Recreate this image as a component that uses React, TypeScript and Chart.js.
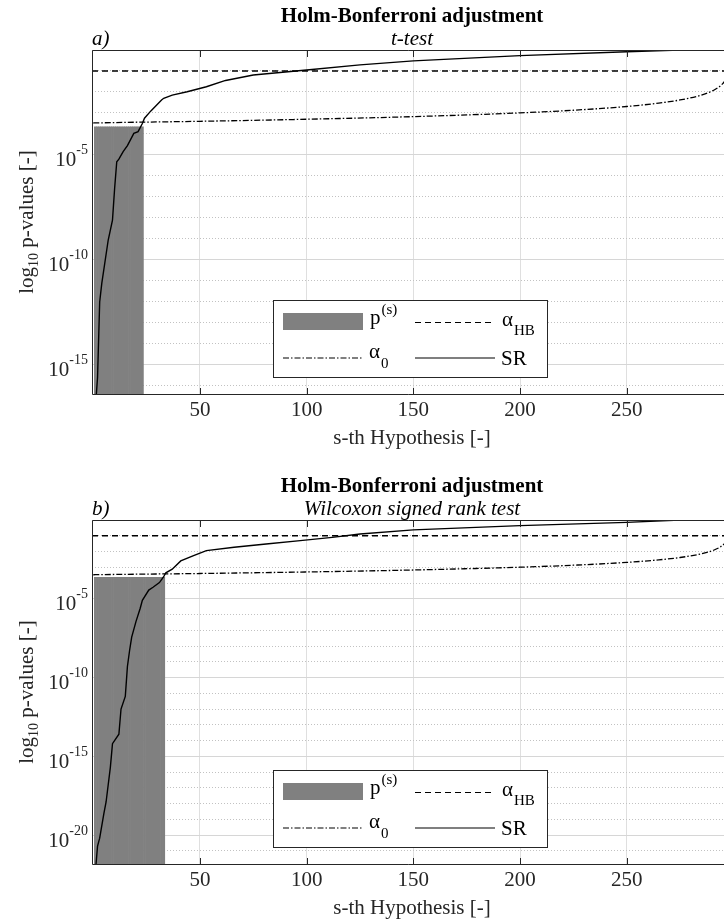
import React, { useEffect, useRef } from 'react';
import { Chart, registerables } from 'chart.js';

Chart.register(...registerables);

const FONT = '"Liberation Serif", "Times New Roman", Times, serif';

// ---------- shared axis data ----------
const xTickValues = [50, 100, 150, 200, 250];
const xRange = [-0.6, 295.6];
const alphaHB = 0.1;

// Holm threshold alpha_0
const alpha0Index = [0, 1, 50, 100, 150, 200, 225, 250, 265, 275, 283, 288, 291, 293, 294, 295, 296];
const alpha0Values = [3.34e-4, 3.36e-4, 4.02e-4, 5.03e-4, 6.71e-4, 1.01e-3, 1.35e-3, 2.04e-3, 2.94e-3, 4.17e-3, 6.25e-3, 9.1e-3, 1.25e-2, 1.67e-2, 2.0e-2, 2.5e-2, 3.33e-2];

// ---------- panel a) t-test ----------
const tTestSRIndex = [1, 2, 3, 4, 7, 9, 10, 11, 12, 14, 16, 19, 21, 23, 24, 27, 32, 33, 37, 44, 53, 62, 75, 100, 125, 150, 200, 250, 275, 296];
const tTestSRExp = [-17.0, -15.6, -12.0, -11.1, -9.05, -8.1, -6.6, -5.32, -5.2, -4.84, -4.55, -3.97, -3.89, -3.5, -3.25, -2.9, -2.38, -2.3, -2.15, -1.99, -1.75, -1.45, -1.19, -0.95, -0.71, -0.52, -0.27, -0.08, 0, 0];
const tTestSigIndex = [1, 2, 3, 4, 5, 6, 7, 8, 9, 10, 11, 12, 13, 14, 15, 16, 17, 18, 19, 20, 21, 22, 23];
const tTestSigValues = [2.2e-4, 2.2e-4, 2.2e-4, 2.2e-4, 2.2e-4, 2.2e-4, 2.2e-4, 2.2e-4, 2.2e-4, 2.2e-4, 2.2e-4, 2.2e-4, 2.2e-4, 2.2e-4, 2.2e-4, 2.2e-4, 2.2e-4, 2.2e-4, 2.2e-4, 2.2e-4, 2.2e-4, 2.2e-4, 2.2e-4];
const tTestDecades = [0, -1, -2, -3, -4, -5, -6, -7, -8, -9, -10, -11, -12, -13, -14, -15, -16];
const tTestLabelExps = [-5, -10, -15];
const tTestYMin = 3.7e-17;

// ---------- panel b) Wilcoxon ----------
const wilcoxSRIndex = [1, 2, 3, 5, 6, 8, 9, 12, 13, 15, 16, 17, 18, 20, 22, 23, 26, 28, 31, 33, 34, 37, 41, 47, 53, 66, 81, 97, 112, 125, 150, 200, 250, 275, 296];
const wilcoxSRExp = [-22.3, -20.7, -20.2, -18.6, -17.9, -15.7, -14.2, -13.6, -12.0, -11.2, -9.3, -8.3, -7.43, -6.45, -5.6, -5.1, -4.45, -4.27, -3.97, -3.6, -3.35, -3.12, -2.6, -2.26, -1.94, -1.73, -1.52, -1.31, -1.1, -0.89, -0.63, -0.36, -0.15, 0, 0];
const wilcoxSigIndex = [1, 2, 3, 4, 5, 6, 7, 8, 9, 10, 11, 12, 13, 14, 15, 16, 17, 18, 19, 20, 21, 22, 23, 24, 25, 26, 27, 28, 29, 30, 31, 32, 33];
const wilcoxSigValues = [2.3e-4, 2.3e-4, 2.3e-4, 2.3e-4, 2.3e-4, 2.3e-4, 2.3e-4, 2.3e-4, 2.3e-4, 2.3e-4, 2.3e-4, 2.3e-4, 2.3e-4, 2.3e-4, 2.3e-4, 2.3e-4, 2.3e-4, 2.3e-4, 2.3e-4, 2.3e-4, 2.3e-4, 2.3e-4, 2.3e-4, 2.3e-4, 2.3e-4, 2.3e-4, 2.3e-4, 2.3e-4, 2.3e-4, 2.3e-4, 2.3e-4, 2.3e-4, 2.3e-4];
const wilcoxDecades = [0, -1, -2, -3, -4, -5, -6, -7, -8, -9, -10, -11, -12, -13, -14, -15, -16, -17, -18, -19, -20, -21];
const wilcoxLabelExps = [-5, -10, -15, -20];
const wilcoxYMin = 1.26e-22;

const mainTitle = 'Holm-Bonferroni adjustment';

type Panel = {
  letter: string;
  subtitle: string;
  height: number;
  yMin: number;
  decades: number[];
  labelExps: number[];
  srIndex: number[];
  srExp: number[];
  sigIndex: number[];
  sigValues: number[];
};

const panels: Panel[] = [
  { letter: 'a)', subtitle: 't-test', height: 470, yMin: tTestYMin, decades: tTestDecades, labelExps: tTestLabelExps, srIndex: tTestSRIndex, srExp: tTestSRExp, sigIndex: tTestSigIndex, sigValues: tTestSigValues },
  { letter: 'b)', subtitle: 'Wilcoxon signed rank test', height: 452, yMin: wilcoxYMin, decades: wilcoxDecades, labelExps: wilcoxLabelExps, srIndex: wilcoxSRIndex, srExp: wilcoxSRExp, sigIndex: wilcoxSigIndex, sigValues: wilcoxSigValues },
];

const PLOT_TOP = 50;
const PLOT_BOTTOM = 395;
const PLOT_LEFT = 92;
const TITLE_CX = 412;

const DASH_HB = [6, 4];
const DASH_A0 = [6, 2, 1.5, 2];

function isMajor(v: number) {
  const e = Math.round(Math.log10(v));
  return e % 5 === 0 && e !== 0;
}

function drawParts(ctx: CanvasRenderingContext2D, x: number, parts: { t: string; size: number; y: number; style?: string; dx?: number }[]) {
  let cx = x;
  for (const p of parts) {
    ctx.font = `${p.style || ''} ${p.size}px ${FONT}`;
    cx += p.dx || 0;
    ctx.fillText(p.t, cx, p.y);
    cx += ctx.measureText(p.t).width;
  }
}

function makeDecor(panel: Panel) {
  return {
    id: 'decor',
    afterDraw(chart: any) {
      const ctx: CanvasRenderingContext2D = chart.ctx;
      const { left, right, top, bottom } = chart.chartArea;
      const xs = chart.scales.x;
      const ys = chart.scales.y;
      ctx.save();

      // axes box
      ctx.strokeStyle = '#262626';
      ctx.lineWidth = 1;
      ctx.setLineDash([]);
      ctx.beginPath();
      ctx.moveTo(right, top + 0.5);
      ctx.lineTo(left + 0.5, top + 0.5);
      ctx.lineTo(left + 0.5, bottom - 0.5);
      ctx.lineTo(right, bottom - 0.5);
      ctx.stroke();

      // inward tick marks
      ctx.beginPath();
      xTickValues.forEach((v) => {
        const px = Math.round(xs.getPixelForValue(v)) + 0.5;
        ctx.moveTo(px, top);
        ctx.lineTo(px, top + 7);
        ctx.moveTo(px, bottom);
        ctx.lineTo(px, bottom - 7);
      });
      ctx.stroke();

      // y tick labels with superscript exponents
      ctx.fillStyle = '#262626';
      ctx.textBaseline = 'alphabetic';
      ctx.textAlign = 'left';
      panel.labelExps.forEach((e) => {
        const py = ys.getPixelForValue(Math.pow(10, e));
        ctx.font = `21px ${FONT}`;
        const w10 = ctx.measureText('10').width;
        ctx.font = `14px ${FONT}`;
        const we = ctx.measureText(String(e)).width;
        const x0 = 88 - w10 - we;
        ctx.font = `21px ${FONT}`;
        ctx.fillText('10', x0, py + 11.5);
        ctx.font = `14px ${FONT}`;
        ctx.fillText(String(e), x0 + w10, py - 0.5);
      });

      // titles
      ctx.fillStyle = '#000';
      ctx.textAlign = 'center';
      ctx.font = `bold 21px ${FONT}`;
      ctx.fillText(mainTitle, TITLE_CX, 21.5);
      ctx.font = `italic 21px ${FONT}`;
      ctx.fillText(panel.subtitle, TITLE_CX, 45);
      ctx.textAlign = 'left';
      ctx.fillText(panel.letter, left, 45);

      // x axis title
      ctx.fillStyle = '#262626';
      ctx.textAlign = 'center';
      ctx.font = `21px ${FONT}`;
      ctx.fillText('s-th Hypothesis [-]', TITLE_CX, 443.5);

      // y axis title (rotated, with subscript)
      ctx.save();
      ctx.translate(33, 222);
      ctx.rotate(-Math.PI / 2);
      ctx.textAlign = 'left';
      ctx.font = `21px ${FONT}`;
      const wLog = ctx.measureText('log').width;
      const wRest = ctx.measureText(' p-values [-]').width;
      ctx.font = `14px ${FONT}`;
      const wSub = ctx.measureText('10').width;
      const total = wLog + wSub + wRest;
      drawParts(ctx, -total / 2, [
        { t: 'log', size: 21, y: 0 },
        { t: '10', size: 14, y: 5 },
        { t: ' p-values [-]', size: 21, y: 0 },
      ]);
      ctx.restore();

      // legend
      const bx = 273.5, by = 300.5, bw = 274, bh = 77;
      ctx.fillStyle = '#fff';
      ctx.fillRect(bx, by, bw, bh);
      ctx.strokeStyle = '#262626';
      ctx.lineWidth = 1;
      ctx.strokeRect(bx, by, bw, bh);

      ctx.fillStyle = '#808080';
      ctx.fillRect(283, 313, 80, 17);

      ctx.strokeStyle = '#000';
      ctx.lineWidth = 1.2;
      const seg = (x1: number, x2: number, y: number, dash: number[]) => {
        ctx.setLineDash(dash);
        ctx.beginPath();
        ctx.moveTo(x1, y);
        ctx.lineTo(x2, y);
        ctx.stroke();
      };
      seg(415, 495, 322.5, DASH_HB);
      seg(283, 363, 358, DASH_A0);
      seg(415, 495, 358, []);
      ctx.setLineDash([]);

      ctx.fillStyle = '#000';
      ctx.textAlign = 'left';
      drawParts(ctx, 370, [
        { t: 'p', size: 21, y: 324 },
        { t: '(s)', size: 15, y: 314, dx: 1 },
      ]);
      drawParts(ctx, 502, [
        { t: 'α', size: 21, y: 326 },
        { t: 'HB', size: 15, y: 335, dx: 1 },
      ]);
      drawParts(ctx, 369, [
        { t: 'α', size: 21, y: 357.5 },
        { t: '0', size: 15, y: 368, dx: 1 },
      ]);
      ctx.font = `21px ${FONT}`;
      ctx.fillText('SR', 501, 365);

      ctx.restore();
    },
  };
}

function PanelChart({ panel }: { panel: Panel }) {
  const ref = useRef<HTMLCanvasElement | null>(null);
  useEffect(() => {
    if (!ref.current) return;
    const h = panel.height;
    const chart = new Chart(ref.current, {
      type: 'line',
      data: {
        datasets: [
          {
            type: 'line',
            label: 'SR',
            data: panel.srIndex.map((s, i) => ({ x: s, y: Math.pow(10, panel.srExp[i]) })),
            borderColor: '#000',
            borderWidth: 1.4,
            pointRadius: 0,
            tension: 0,
            order: 1,
          },
          {
            type: 'line',
            label: 'alpha_HB',
            data: xRange.map((s) => ({ x: s, y: alphaHB })),
            borderColor: '#000',
            borderWidth: 1.3,
            borderDash: DASH_HB,
            pointRadius: 0,
            order: 2,
          },
          {
            type: 'line',
            label: 'alpha_0',
            data: alpha0Index.map((s, i) => ({ x: s, y: alpha0Values[i] })),
            borderColor: '#000',
            borderWidth: 1.3,
            borderDash: DASH_A0,
            pointRadius: 0,
            cubicInterpolationMode: 'monotone',
            order: 3,
          },
          {
            type: 'bar',
            label: 'p(s)',
            data: panel.sigIndex.map((s, i) => ({ x: s, y: panel.sigValues[i] })),
            backgroundColor: '#808080',
            borderWidth: 0,
            barPercentage: 1,
            categoryPercentage: 1,
            order: 4,
          } as any,
        ],
      },
      options: {
        responsive: false,
        animation: false,
        events: [],
        layout: { padding: { top: PLOT_TOP, left: 0, right: 0, bottom: 0 } },
        plugins: {
          legend: { display: false },
          title: { display: false },
          tooltip: { enabled: false },
        },
        scales: {
          x: {
            type: 'linear',
            min: xRange[0],
            max: xRange[1],
            offset: false,
            afterBuildTicks: (s: any) => {
              s.ticks = xTickValues.map((v) => ({ value: v }));
            },
            afterFit: (s: any) => {
              s.height = h - PLOT_BOTTOM;
            },
            grid: { color: '#dfdfdf', lineWidth: 1, drawTicks: false, offset: false },
            border: { display: false },
            ticks: {
              autoSkip: false,
              maxRotation: 0,
              padding: 3,
              color: '#262626',
              font: { family: FONT, size: 21 },
              callback: (v: any) => String(v),
            },
          },
          y: {
            type: 'logarithmic',
            min: panel.yMin,
            max: 1,
            afterBuildTicks: (s: any) => {
              s.ticks = panel.decades.map((e) => ({ value: Math.pow(10, e) }));
            },
            afterFit: (s: any) => {
              s.width = PLOT_LEFT;
            },
            grid: {
              color: (c: any) => (c.tick && isMajor(c.tick.value) ? '#d6d6d6' : '#c2c2c2'),
              lineWidth: 1,
              drawTicks: false,
            },
            border: {
              display: false,
              dash: (c: any) => (c.tick && isMajor(c.tick.value) ? [] : [1, 2]),
            },
            ticks: { display: false },
          },
        },
      } as any,
      plugins: [makeDecor(panel)],
    });
    return () => chart.destroy();
  }, [panel]);
  return <canvas ref={ref} width={724} height={panel.height} style={{ display: 'block', width: 724, height: panel.height }} />;
}

export default function App() {
  useEffect(() => {
    document.body.style.margin = '0';
  }, []);
  return (
    <div style={{ width: 724, background: '#fff' }}>
      {panels.map((p) => (
        <PanelChart key={p.letter} panel={p} />
      ))}
    </div>
  );
}
